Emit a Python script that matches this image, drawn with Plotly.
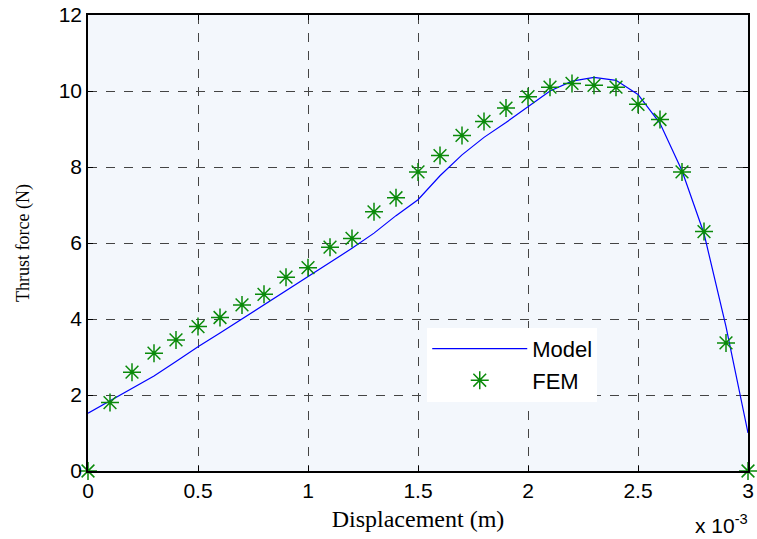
import plotly.graph_objects as go

# Displacement in units of 1e-3 m
fem_x = [0, 0.1, 0.2, 0.3, 0.4, 0.5, 0.6, 0.7, 0.8, 0.9, 1.0, 1.1, 1.2, 1.3, 1.4, 1.5,
         1.6, 1.7, 1.8, 1.9, 2.0, 2.1, 2.2, 2.3, 2.4, 2.5, 2.6, 2.7, 2.8, 2.9, 3.0]
fem_y = [0, 1.8, 2.6, 3.1, 3.45, 3.8, 4.04, 4.37, 4.65, 5.1, 5.35, 5.89, 6.12, 6.82, 7.19, 7.87,
         8.3, 8.83, 9.2, 9.55, 9.85, 10.1, 10.2, 10.15, 10.1, 9.65, 9.25, 7.87, 6.3, 3.37, 0]

model_x = [0, 0.1, 0.2, 0.3, 0.4, 0.5, 0.6, 0.7, 0.8, 0.9, 1.0, 1.1, 1.2, 1.3, 1.4, 1.5,
           1.6, 1.7, 1.8, 1.9, 2.0, 2.1, 2.2, 2.3, 2.4, 2.5, 2.6, 2.7, 2.8, 2.9, 3.0]
model_y = [1.52, 1.84, 2.17, 2.5, 2.88, 3.27, 3.63, 4.0, 4.36, 4.74, 5.11, 5.47, 5.86, 6.26, 6.72, 7.14,
           7.77, 8.32, 8.78, 9.17, 9.58, 10.0, 10.26, 10.36, 10.28, 9.91, 9.15, 7.9, 6.25, 3.8, 1.0]

x_ticks = [0, 0.5, 1, 1.5, 2, 2.5, 3]
x_ticktext = ["0", "0.5", "1", "1.5", "2", "2.5", "3"]
y_ticks = [0, 2, 4, 6, 8, 10, 12]

fig = go.Figure()
fig.add_trace(go.Scatter(x=model_x, y=model_y, mode="lines", name="Model",
                         line=dict(color="#0000FF", width=1.2)))
fig.add_trace(go.Scatter(x=fem_x, y=fem_y, mode="markers", name="FEM",
                         marker=dict(symbol="asterisk-open", size=15, color="#0a8a0a",
                                     line=dict(color="#0a8a0a", width=1.5)),
                         cliponaxis=False))

axis_common = dict(showline=True, linecolor="black", linewidth=1.5, mirror="ticks",
                   ticks="inside", ticklen=5, tickcolor="black",
                   showgrid=True, gridcolor="#444444", griddash="dash", gridwidth=1,
                   zeroline=False, automargin=False,
                   tickfont=dict(family="Liberation Sans, Arial", size=21, color="black"))

fig.update_xaxes(range=[0, 3], tickvals=x_ticks, ticktext=x_ticktext,
                 title=dict(text="Displacement (m)", standoff=9,
                            font=dict(family="Liberation Serif, Times New Roman", size=24, color="black")),
                 **axis_common)
fig.update_yaxes(range=[0, 12], tickvals=y_ticks,
                 title=dict(text="Thrust force (N)", standoff=24,
                            font=dict(family="Liberation Serif, Times New Roman", size=18, color="black")),
                 **axis_common)

fig.add_annotation(x=1.003, y=-0.15, xref="paper", yref="paper", xanchor="right", yanchor="bottom",
                   showarrow=False,
                   text="x 10<sup>-3</sup>",
                   font=dict(family="Liberation Sans, Arial", size=21, color="black"))

fig.update_layout(
    width=757, height=539,
    margin=dict(l=88, r=9, t=15, b=68),
    paper_bgcolor="white", plot_bgcolor="#F3F7FC",
    showlegend=True,
    legend=dict(x=0.514, y=0.314, xanchor="left", yanchor="top",
                bgcolor="white", borderwidth=0,
                font=dict(family="Liberation Sans, Arial", size=22, color="black"),
                itemwidth=95, tracegroupgap=2),
)

fig.write_html("out.html")
